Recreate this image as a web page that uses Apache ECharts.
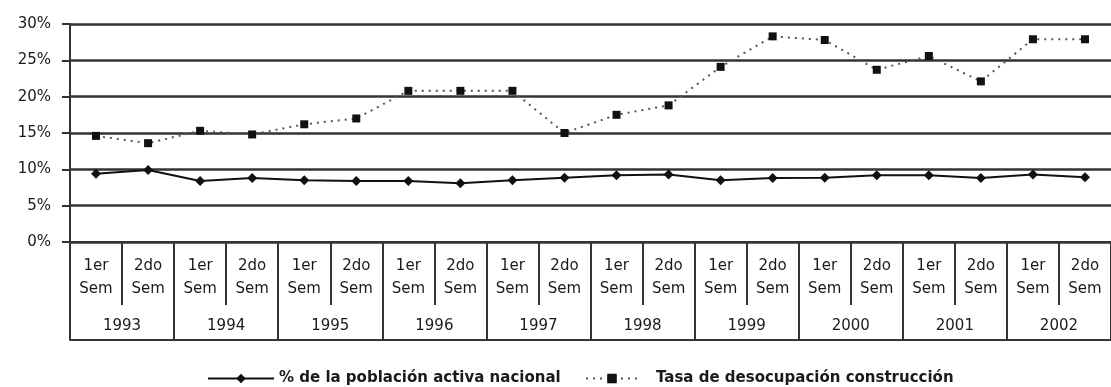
<!DOCTYPE html>
<html>
<head>
<meta charset="utf-8">
<style>
  html, body { margin: 0; padding: 0; background: #fff; }
  #chart { width: 1111px; height: 387px; }
</style>
<script src="https://cdn.jsdelivr.net/npm/echarts@6/dist/echarts.min.js"></script>
</head>
<body>
<div id="chart"></div>
<script>
// Semesters per year and the years shown in the two-row category table
const years = ['1993', '1994', '1995', '1996', '1997', '1998', '1999', '2000', '2001', '2002'];
const semesterLabels = ['1er\nSem', '2do\nSem'];

// Unemployment rates (%) per semester
const nationalRate = [9.4, 9.9, 8.4, 8.8, 8.5, 8.4, 8.4, 8.1, 8.5, 8.85, 9.2, 9.3, 8.5, 8.8, 8.85, 9.2, 9.2, 8.8, 9.3, 8.9];
const constructionRate = [14.6, 13.6, 15.3, 14.8, 16.2, 17.0, 20.8, 20.8, 20.8, 15.0, 17.5, 18.8, 24.1, 28.3, 27.8, 23.7, 25.6, 22.1, 27.9, 27.9];

const seriesNames = ['% de la población activa nacional', 'Tasa de desocupación construcción'];

// Y axis ticks
const yMin = 0, yMax = 30, yStep = 5;

const categories = [];
years.forEach(() => semesterLabels.forEach(s => categories.push(s)));

const FONT = 'DejaVu Sans';
const INK = '#1a1a1a';
const RULE = '#333';

const chart = echarts.init(document.getElementById('chart'), null, { renderer: 'canvas' });

chart.setOption({
  backgroundColor: '#fff',
  animation: false,
  grid: { left: 70, right: -8, top: 24, bottom: 145, containLabel: false },
  xAxis: [
    {
      // semester row
      type: 'category',
      data: categories,
      position: 'bottom',
      boundaryGap: true,
      axisLine: { show: true, lineStyle: { color: RULE, width: 2 } },
      axisTick: { show: true, interval: 0, length: 63, lineStyle: { color: RULE, width: 2 } },
      axisLabel: {
        interval: 0, margin: 13, color: INK, fontFamily: FONT, fontSize: 15, lineHeight: 23
      }
    },
    {
      // year row
      type: 'category',
      data: years,
      position: 'bottom',
      boundaryGap: true,
      axisLine: { show: false },
      axisTick: { show: true, interval: 0, length: 98, lineStyle: { color: RULE, width: 2 } },
      axisLabel: {
        interval: 0, margin: 75, color: INK, fontFamily: FONT, fontSize: 15, lineHeight: 18
      }
    },
    {
      // bottom border of the table
      type: 'category',
      data: categories,
      position: 'bottom',
      offset: 98,
      axisLine: { show: true, lineStyle: { color: RULE, width: 2 } },
      axisTick: { show: false },
      axisLabel: { show: false }
    }
  ],
  yAxis: {
    type: 'value',
    min: yMin,
    max: yMax,
    interval: yStep,
    axisLine: { show: true, lineStyle: { color: RULE, width: 2 } },
    axisTick: { show: true, length: 8, lineStyle: { color: RULE, width: 2 } },
    axisLabel: {
      margin: 19, color: INK, fontFamily: FONT, fontSize: 15,
      padding: [0, 0, 6, 0],
      formatter: '{value}%'
    },
    splitLine: { show: true, lineStyle: { color: RULE, width: 2.5 } }
  },
  legend: [
    {
      data: [seriesNames[0]],
      left: 202,
      top: 366,
      itemWidth: 66,
      itemHeight: 12,
      textStyle: { color: INK, fontFamily: FONT, fontSize: 15, fontWeight: 'bold' }
    },
    {
      data: [seriesNames[1]],
      left: 580,
      top: 366,
      itemWidth: 52,
      itemHeight: 12,
      formatter: '{t|{name}}',
      textStyle: {
        color: INK, fontFamily: FONT, fontSize: 15, fontWeight: 'bold',
        rich: { t: { color: INK, fontFamily: FONT, fontSize: 15, fontWeight: 'bold', padding: [0, 0, 0, 13] } }
      }
    }
  ],
  series: [
    {
      name: seriesNames[0],
      type: 'line',
      xAxisIndex: 0,
      data: nationalRate,
      symbol: 'diamond',
      symbolSize: 10,
      itemStyle: { color: '#111' },
      lineStyle: { color: '#111', width: 2 },
      z: 3
    },
    {
      name: seriesNames[1],
      type: 'line',
      xAxisIndex: 0,
      data: constructionRate,
      symbol: 'rect',
      symbolSize: 8,
      itemStyle: { color: '#111' },
      lineStyle: { color: '#555', width: 2, type: [2, 5] },
      z: 3
    }
  ]
});
</script>
</body>
</html>
